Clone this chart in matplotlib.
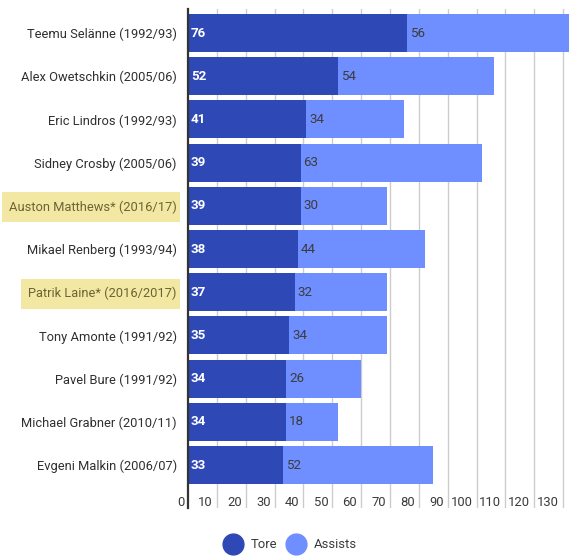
import matplotlib
matplotlib.use("Agg")
import matplotlib.pyplot as plt
from matplotlib.lines import Line2D
from matplotlib.patches import Rectangle
import matplotlib.transforms as mtransforms

players = ["Teemu Selänne (1992/93)", "Alex Owetschkin (2005/06)", "Eric Lindros (1992/93)",
           "Sidney Crosby (2005/06)", "Auston Matthews* (2016/17)", "Mikael Renberg (1993/94)",
           "Patrik Laine* (2016/2017)", "Tony Amonte (1991/92)", "Pavel Bure (1991/92)",
           "Michael Grabner (2010/11)", "Evgeni Malkin (2006/07)"]
tore = [76, 52, 41, 39, 39, 38, 37, 35, 34, 34, 33]
assists = [56, 54, 34, 63, 30, 44, 32, 34, 26, 18, 52]
highlighted = ["Auston Matthews* (2016/17)", "Patrik Laine* (2016/2017)"]
xticks = list(range(0, 140, 10))

plt.rcParams['font.family'] = ['Roboto', 'DejaVu Sans']

W, H = 582, 560
fig = plt.figure(figsize=(W / 100, H / 100), dpi=100)
ax_left, ax_right, ax_top, ax_bottom = 188, 572, 9, 508
ax = fig.add_axes([ax_left / W, 1 - ax_bottom / H, (ax_right - ax_left) / W, (ax_bottom - ax_top) / H])

dark = '#2E48B6'
light = '#6F8EFF'
y = list(range(len(players)))
ax.barh(y, tore, height=0.88, color=dark, zorder=3)
ax.barh(y, assists, left=tore, height=0.88, color=light, zorder=3)

ax.set_xlim(0, (ax_right - ax_left) / 2.885)
ax.set_ylim(10.995, -0.556)

for sp in ['top', 'right', 'bottom']:
    ax.spines[sp].set_visible(False)
ax.spines['left'].set_color('#333333')
ax.spines['left'].set_linewidth(1.6)
ax.spines['left'].set_zorder(5)

for t in xticks[1:]:
    ax.axvline(t, color='#cccccc', lw=1, zorder=1)

ax.set_xticks([])
ax.set_yticks(y)
ax.set_yticklabels(players, fontsize=9.3, color='#2f2f2f')
ax.tick_params(axis='y', length=0, pad=8)

trans = mtransforms.blended_transform_factory(ax.transData, ax.transAxes)
for t in xticks:
    off = mtransforms.offset_copy(trans, fig=fig, x=-4, y=0, units='dots')
    ax.text(t, 6 / (ax_bottom - ax_top), str(t), transform=off, ha='right', va='center',
            fontsize=9.4, color='#3a3a3a')

for i in range(len(players)):
    off1 = mtransforms.offset_copy(ax.transData, fig=fig, x=3, y=0, units='dots')
    ax.text(0, i, str(tore[i]), transform=off1, ha='left', va='center', color='white',
            fontsize=9.6, fontweight='bold', zorder=6)
    off2 = mtransforms.offset_copy(ax.transData, fig=fig, x=3, y=0, units='dots')
    ax.text(tore[i], i, str(assists[i]), transform=off2, ha='left', va='center', color='#3c3c3c',
            fontsize=9.6, zorder=6)

fig.canvas.draw()
renderer = fig.canvas.get_renderer()
for lab in ax.get_yticklabels():
    if lab.get_text() in highlighted:
        lab.set_color('#6b6432')
        bb = lab.get_window_extent(renderer)
        cy = (bb.y0 + bb.y1) / 2
        rect = Rectangle((bb.x0 - 7, cy - 15), bb.width + 10, 30, transform=None,
                         facecolor='#F2E8A4', edgecolor='none', zorder=-1)
        fig.patches.append(rect)

handles = [Line2D([], [], marker='o', ls='none', markersize=15, color=dark),
           Line2D([], [], marker='o', ls='none', markersize=15, color=light)]
leg = fig.legend(handles, ['Tore', 'Assists'], loc='center', bbox_to_anchor=(0.5, 15 / H), ncol=2,
                 frameon=False, fontsize=9.4, handletextpad=0.7, columnspacing=0.9,
                 handlelength=1.2)
for txt in leg.get_texts():
    txt.set_color('#3a3a3a')

fig.savefig('out.png', dpi=100)
